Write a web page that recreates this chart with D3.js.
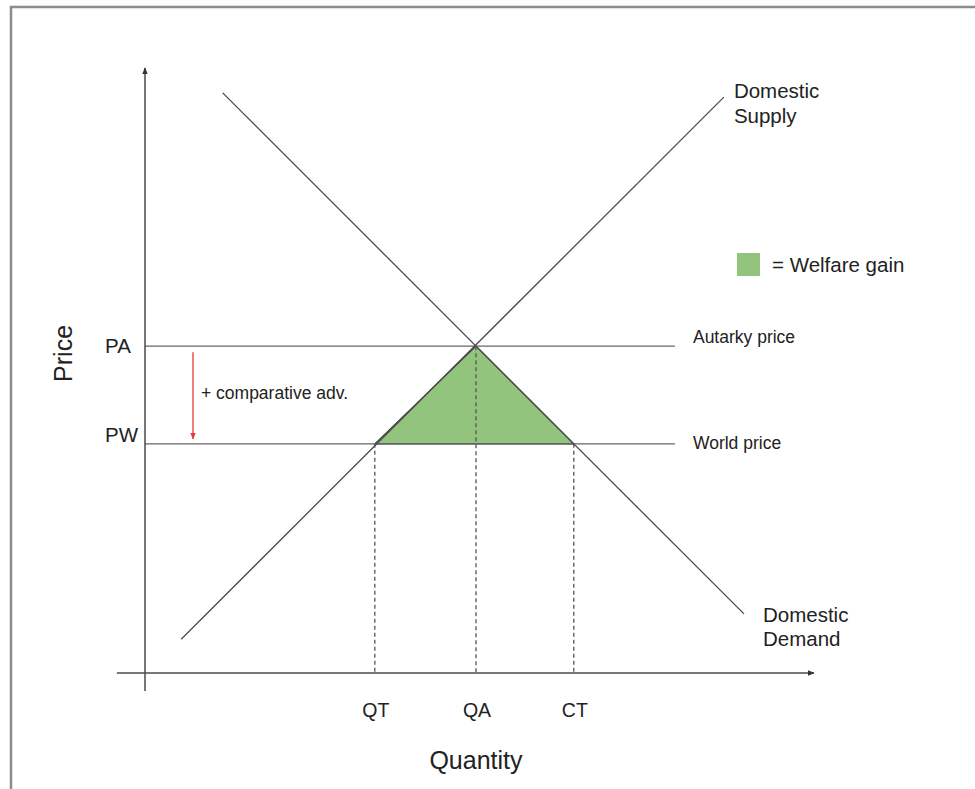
<!DOCTYPE html>
<html>
<head>
<meta charset="utf-8">
<script src="https://cdn.jsdelivr.net/npm/d3@7"></script>
<style>
  html, body { margin: 0; padding: 0; background: #fff; }
  svg { display: block; }
  text { font-family: "Liberation Sans", Arial, sans-serif; fill: #222; }
</style>
</head>
<body>
<svg id="chart" width="975" height="789"></svg>
<script>
// ---- data (abstract units: quantity 0-100, price 0-100) ----
const supplyCurve = [{q: 5.4, p: 5.6}, {q: 86.4, p: 95.5}];
const demandCurve = [{q: 11.6, p: 96.2}, {q: 89.4, p: 9.8}];
const priceLevels = [
  {key: "PA", value: 54.2, label: "Autarky price"},
  {key: "PW", value: 38.0, label: "World price"}
];
const quantityTicks = [
  {key: "QT", value: 34.3},
  {key: "QA", value: 49.4},
  {key: "CT", value: 64.0}
];
const welfareTriangle = [
  {q: 34.3, p: 38.0},
  {q: 49.4, p: 54.2},
  {q: 64.0, p: 38.0}
];
const priceLineEnd = 79.1;
const axisTitles = {x: "Quantity", y: "Price"};
const legendLabel = "= Welfare gain";
const arrowLabel = "+ comparative adv.";

// ---- scales ----
const x = d3.scaleLinear().domain([0, 100]).range([145, 815]);
const y = d3.scaleLinear().domain([0, 100]).range([673, 70]);

const svg = d3.select("#chart");
const ink = "#4a4a4a";

// frame (partial border as in the screenshot)
svg.append("path")
  .attr("d", "M11,789 V7 H975")
  .attr("fill", "none").attr("stroke", "#8c8c8c").attr("stroke-width", 2.5);

const defs = svg.append("defs");
function marker(id, color, size) {
  defs.append("marker")
    .attr("id", id).attr("viewBox", "0 0 10 10")
    .attr("refX", 9).attr("refY", 5)
    .attr("markerWidth", size).attr("markerHeight", size)
    .attr("markerUnits", "userSpaceOnUse")
    .attr("orient", "auto")
    .append("path").attr("d", "M0,1 L10,5 L0,9 Z").attr("fill", color);
}
marker("arrowDark", "#333", 7);
marker("arrowRed", "#e53935", 7);

// welfare triangle
svg.append("path")
  .datum(welfareTriangle)
  .attr("d", d3.line().x(d => x(d.q)).y(d => y(d.p)).curve(d3.curveLinearClosed))
  .attr("fill", "#93c47d").attr("stroke", "#3d3d3d").attr("stroke-width", 1.2);

// dashed drop lines
quantityTicks.forEach(t => {
  const top = t.key === "QA" ? priceLevels[0].value : priceLevels[1].value;
  svg.append("line")
    .attr("x1", x(t.value)).attr("x2", x(t.value))
    .attr("y1", y(top)).attr("y2", y(0))
    .attr("stroke", "#555").attr("stroke-width", 1.3)
    .attr("stroke-dasharray", "4,3");
});

// price level lines
priceLevels.forEach(pl => {
  svg.append("line")
    .attr("x1", x(0)).attr("x2", x(priceLineEnd))
    .attr("y1", y(pl.value)).attr("y2", y(pl.value))
    .attr("stroke", "#666").attr("stroke-width", 1.3);
});

// curves
const line = d3.line().x(d => x(d.q)).y(d => y(d.p));
[supplyCurve, demandCurve].forEach(c => {
  svg.append("path").datum(c).attr("d", line)
    .attr("fill", "none").attr("stroke", ink).attr("stroke-width", 1.3);
});

// axes
svg.append("line")
  .attr("x1", x(0)).attr("x2", x(0))
  .attr("y1", y(-3)).attr("y2", y(100) - 2)
  .attr("stroke", ink).attr("stroke-width", 1.5)
  .attr("marker-end", "url(#arrowDark)");
svg.append("line")
  .attr("x1", x(-4.2)).attr("x2", x(100) - 1)
  .attr("y1", y(0)).attr("y2", y(0))
  .attr("stroke", ink).attr("stroke-width", 1.5)
  .attr("marker-end", "url(#arrowDark)");

// price tick labels
svg.selectAll(".plabel").data(priceLevels).join("text")
  .attr("x", x(0) - 40)
  .attr("y", d => y(d.value) + (d.key === "PA" ? 7 : -2))
  .attr("font-size", 20.5)
  .text(d => d.key);

// quantity tick labels
svg.selectAll(".qlabel").data(quantityTicks).join("text")
  .attr("x", d => x(d.value) + 1)
  .attr("y", y(0) + 44)
  .attr("text-anchor", "middle").attr("font-size", 19.5)
  .text(d => d.key);

// price level annotations
svg.selectAll(".pann").data(priceLevels).join("text")
  .attr("x", x(priceLineEnd) + 18)
  .attr("y", d => y(d.value) + (d.key === "PA" ? -3 : 5))
  .attr("font-size", 17.5)
  .text(d => d.label);

// curve labels
const supplyEnd = supplyCurve[supplyCurve.length - 1];
const sl = svg.append("text").attr("font-size", 20.5)
  .attr("x", x(supplyEnd.q) + 10).attr("y", y(supplyEnd.p) + 1);
sl.append("tspan").text("Domestic");
sl.append("tspan").attr("x", x(supplyEnd.q) + 10).attr("dy", 25).text("Supply");

const demandEnd = demandCurve[demandCurve.length - 1];
const dl = svg.append("text").attr("font-size", 20.5)
  .attr("x", x(demandEnd.q) + 19).attr("y", y(demandEnd.p) + 8);
dl.append("tspan").text("Domestic");
dl.append("tspan").attr("x", x(demandEnd.q) + 19).attr("dy", 24).text("Demand");

// legend
svg.append("rect")
  .attr("x", 737).attr("y", 253).attr("width", 23).attr("height", 23)
  .attr("fill", "#93c47d");
svg.append("text").attr("x", 772).attr("y", 272)
  .attr("font-size", 20.5).text(legendLabel);

// red arrow (comparative advantage)
svg.append("line")
  .attr("x1", 193).attr("x2", 193)
  .attr("y1", y(priceLevels[0].value) + 6).attr("y2", y(priceLevels[1].value) - 5)
  .attr("stroke", "#e53935").attr("stroke-width", 1.3)
  .attr("marker-end", "url(#arrowRed)");
svg.append("text").attr("x", 201).attr("y", 399)
  .attr("font-size", 17.5).text(arrowLabel);

// axis titles
svg.append("text")
  .attr("x", x(49.4)).attr("y", 769)
  .attr("text-anchor", "middle").attr("font-size", 25)
  .text(axisTitles.x);
svg.append("text")
  .attr("transform", `translate(72,${y(53)}) rotate(-90)`)
  .attr("text-anchor", "middle").attr("font-size", 25)
  .text(axisTitles.y);
</script>
</body>
</html>
